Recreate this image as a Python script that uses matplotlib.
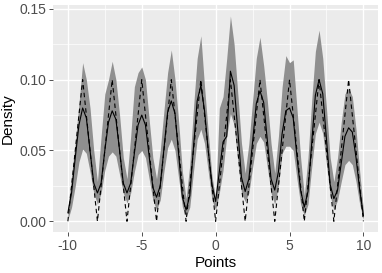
import matplotlib
matplotlib.use('Agg')
import matplotlib.pyplot as plt
from matplotlib.ticker import MultipleLocator

# ================= Data Section =================
# grid of evaluation points
points = [-10 + 0.25 * i for i in range(81)]

# estimated density (solid line)
estimate = [
    0.006, 0.020, 0.045, 0.068, 0.080, 0.073, 0.050, 0.027,
    0.020, 0.027, 0.050, 0.070, 0.078, 0.072, 0.050, 0.027,
    0.020, 0.027, 0.048, 0.068, 0.075, 0.068, 0.046, 0.024,
    0.017, 0.025, 0.051, 0.077, 0.085, 0.076, 0.047, 0.017,
    0.008, 0.018, 0.052, 0.085, 0.096, 0.078, 0.050, 0.026,
    0.014, 0.035, 0.056, 0.060, 0.106, 0.096, 0.064, 0.031,
    0.021, 0.030, 0.056, 0.083, 0.092, 0.084, 0.057, 0.030,
    0.022, 0.035, 0.062, 0.078, 0.080, 0.073, 0.046, 0.022,
    0.010, 0.021, 0.055, 0.089, 0.100, 0.090, 0.058, 0.026,
    0.016, 0.022, 0.041, 0.060, 0.066, 0.063, 0.045, 0.022,
    0.004,
]

# confidence band
upper = [
    0.010, 0.032, 0.056, 0.083, 0.112, 0.100, 0.080, 0.050,
    0.028, 0.060, 0.090, 0.100, 0.113, 0.100, 0.075, 0.045,
    0.030, 0.060, 0.095, 0.105, 0.109, 0.100, 0.072, 0.045,
    0.030, 0.050, 0.078, 0.105, 0.121, 0.100, 0.070, 0.035,
    0.016, 0.040, 0.080, 0.115, 0.131, 0.095, 0.063, 0.032,
    0.016, 0.080, 0.088, 0.115, 0.145, 0.125, 0.090, 0.055,
    0.034, 0.055, 0.085, 0.115, 0.130, 0.110, 0.085, 0.055,
    0.034, 0.060, 0.095, 0.117, 0.112, 0.114, 0.080, 0.045,
    0.018, 0.045, 0.085, 0.120, 0.135, 0.115, 0.080, 0.045,
    0.028, 0.045, 0.070, 0.090, 0.094, 0.088, 0.065, 0.035,
    0.008,
]
lower = [
    0.001, 0.010, 0.025, 0.042, 0.051, 0.048, 0.035, 0.020,
    0.012, 0.020, 0.036, 0.046, 0.049, 0.046, 0.033, 0.020,
    0.013, 0.020, 0.035, 0.047, 0.050, 0.045, 0.030, 0.015,
    0.008, 0.015, 0.035, 0.052, 0.058, 0.050, 0.030, 0.010,
    0.003, 0.010, 0.035, 0.058, 0.065, 0.055, 0.035, 0.015,
    0.008, 0.020, 0.036, 0.060, 0.076, 0.068, 0.042, 0.020,
    0.014, 0.020, 0.038, 0.055, 0.060, 0.056, 0.038, 0.020,
    0.012, 0.025, 0.048, 0.053, 0.053, 0.050, 0.030, 0.012,
    0.004, 0.012, 0.038, 0.062, 0.070, 0.062, 0.040, 0.018,
    0.008, 0.015, 0.028, 0.040, 0.043, 0.040, 0.028, 0.012,
    0.001,
]

# true density (dashed line)
true_x = [-10 + 0.5 * i for i in range(41)]
true_density = [
    0.000, 0.050, 0.100, 0.050, 0.000, 0.050, 0.100, 0.050,
    0.000, 0.050, 0.100, 0.050, 0.000, 0.050, 0.100, 0.050,
    0.000, 0.050, 0.100, 0.050, 0.000, 0.050, 0.100, 0.050,
    0.000, 0.050, 0.100, 0.050, 0.000, 0.050, 0.100, 0.050,
    0.000, 0.050, 0.100, 0.050, 0.000, 0.050, 0.100, 0.050,
    0.000,
]

# ================= Style Configuration =================
plt.rcParams.update({
    'font.family': ['Liberation Sans', 'DejaVu Sans'],
    'xtick.labelsize': 10,
    'ytick.labelsize': 10,
    'axes.labelsize': 11,
    'axes.unicode_minus': False,
})

fig = plt.figure(figsize=(3.82, 2.73), dpi=100)
ax = fig.add_axes([0.139, 0.150, 0.851, 0.832])
ax.set_facecolor('#EBEBEB')
for s in ax.spines.values():
    s.set_visible(False)

# ================= Plotting =================
ax.fill_between(points, lower, upper, color='#8F8F8F', linewidth=0, zorder=2)
ax.plot(points, estimate, color='black', linewidth=0.8, zorder=3)
ax.plot(true_x, true_density, color='black', linewidth=0.8, linestyle=(0, (4, 3)), zorder=4)

# ================= Axes and Grid =================
ax.set_xlim(-11, 11)
ax.set_ylim(-0.0076, 0.1528)
ax.xaxis.set_major_locator(MultipleLocator(5))
ax.xaxis.set_minor_locator(MultipleLocator(2.5))
ax.yaxis.set_major_locator(MultipleLocator(0.05))
ax.yaxis.set_minor_locator(MultipleLocator(0.025))
ax.yaxis.set_major_formatter(plt.FuncFormatter(lambda v, p: '%.2f' % v))
ax.grid(True, which='major', color='white', linewidth=1.0, zorder=0)
ax.grid(True, which='minor', color='white', linewidth=0.5, zorder=0)
ax.set_axisbelow(True)
ax.tick_params(which='major', length=3, width=0.6, color='#333333', labelcolor='#4D4D4D', pad=2)
ax.tick_params(which='minor', length=0)

ax.set_xlabel('Points', labelpad=2)
ax.set_ylabel('Density', labelpad=3)

fig.savefig('out.png', dpi=100)
